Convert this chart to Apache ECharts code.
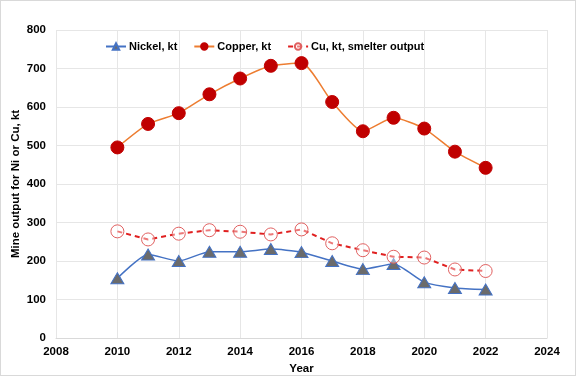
<!DOCTYPE html>
<html>
<head>
<meta charset="utf-8">
<script src="https://cdn.jsdelivr.net/npm/echarts@6/dist/echarts.min.js"></script>
<style>
html,body{margin:0;padding:0;background:#fff;}
#chart{width:574px;height:374px;border:1px solid #d9d9d9;}
</style>
</head>
<body>
<div id="chart"></div>
<script>
var years = [2010, 2011, 2012, 2013, 2014, 2015, 2016, 2017, 2018, 2019, 2020, 2021, 2022];
var nickel = [155, 217, 200, 224, 224, 231, 223, 200, 179, 192, 145, 130, 126];
var copper = [495, 556, 584, 633, 674, 707, 714, 613, 537, 572, 544, 484, 442];
var smelter = [277, 256, 271, 280, 276, 269, 282, 246, 228, 211, 209, 178, 174];

function pairs(vals) {
  return years.map(function (y, i) { return [y, vals[i]]; });
}

var myChart = echarts.init(document.getElementById('chart'));
var font = 'Liberation Sans, Arial, sans-serif';
var option = {
  animation: false,
  textStyle: { fontFamily: font },
  legend: {
    top: 35,
    left: 99,
    itemGap: 16,
    itemWidth: 20,
    itemHeight: 8,
    textStyle: { fontFamily: font, fontWeight: 'bold', fontSize: 11, color: '#000', padding: [0, 0, 0, -2] },
    data: ['Nickel, kt', 'Copper, kt', 'Cu, kt, smelter output']
  },
  grid: { left: 55, right: 28, top: 29, bottom: 37, containLabel: false, outerBoundsMode: 'none' },
  xAxis: {
    type: 'value',
    min: 2008,
    max: 2024,
    interval: 2,
    name: 'Year',
    nameLocation: 'middle',
    nameGap: 25,
    nameMoveOverlap: false,
    nameTextStyle: { fontWeight: 'bold', fontSize: 11.5, color: '#000' },
    axisLine: { lineStyle: { color: '#d9d9d9' } },
    axisTick: { show: false },
    axisLabel: { fontWeight: 'bold', fontSize: 11.5, color: '#000', margin: 8,
      formatter: function (v) { return String(v); } },
    splitLine: { show: true, lineStyle: { color: '#e6e6e6' } }
  },
  yAxis: {
    type: 'value',
    min: 0,
    max: 800,
    interval: 100,
    name: 'Mine output for Ni or Cu, kt',
    nameLocation: 'middle',
    nameGap: 34,
    nameMoveOverlap: false,
    nameTextStyle: { fontWeight: 'bold', fontSize: 11.5, color: '#000' },
    axisLine: { show: false },
    axisTick: { show: false },
    axisLabel: { fontWeight: 'bold', fontSize: 11.5, color: '#000', margin: 10 },
    splitLine: { lineStyle: { color: '#e6e6e6' } }
  },
  series: [
    {
      name: 'Nickel, kt',
      type: 'line',
      smooth: 0.2,
      data: pairs(nickel),
      symbol: 'triangle',
      symbolSize: [13, 11],
      lineStyle: { color: '#4472C4', width: 1.5 },
      itemStyle: { color: '#6b6b6b', borderColor: '#4472C4', borderWidth: 1 },
      z: 3
    },
    {
      name: 'Copper, kt',
      type: 'line',
      smooth: 0.2,
      data: pairs(copper),
      symbol: 'circle',
      symbolSize: 13,
      lineStyle: { color: '#ED7D31', width: 1.5 },
      itemStyle: { color: '#C00000', borderColor: '#C00000', borderWidth: 1 },
      z: 4
    },
    {
      name: 'Cu, kt, smelter output',
      type: 'line',
      smooth: false,
      data: pairs(smelter),
      symbol: 'circle',
      symbolSize: 13,
      lineStyle: { color: '#E02020', width: 2, type: [5, 4] },
      itemStyle: { color: 'rgba(255,255,255,0.4)', borderColor: '#E06060', borderWidth: 1 },
      z: 3
    }
  ]
};
option && myChart.setOption(option);
</script>
</body>
</html>
